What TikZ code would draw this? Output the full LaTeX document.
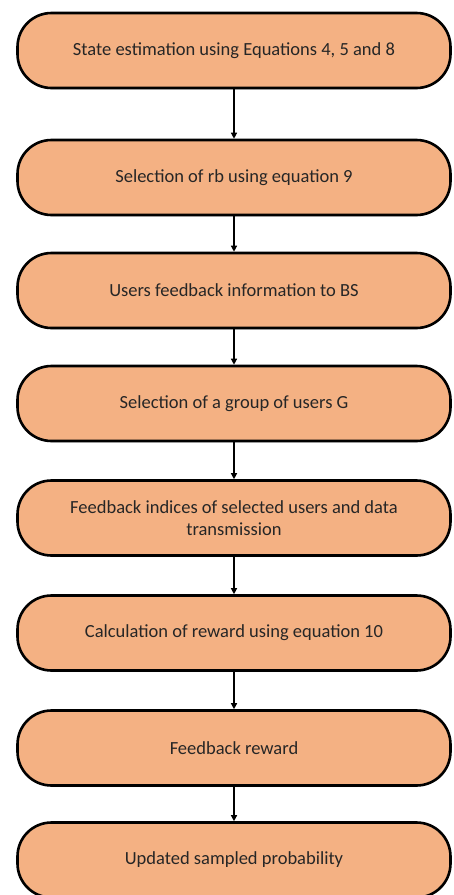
\documentclass[tikz,border=0pt]{standalone}
\usepackage{fontspec}
\setmainfont{Carlito}
\usetikzlibrary{arrows.meta,shadows}
\definecolor{boxfill}{HTML}{F4B183}
\definecolor{txt}{HTML}{262626}
\tikzset{
  flowbox/.style={draw=black, line width=2.6pt, fill=boxfill, rounded corners=34pt,
    minimum width=433pt, minimum height=75pt, inner sep=0pt, align=center,
    text=txt, font=\fontsize{18.5}{22}\selectfont,
    drop shadow={opacity=0.18, shadow xshift=0pt, shadow yshift=-1.5pt}},
  flowarrow/.style={line width=1.3pt, -{Triangle[length=6pt,width=6pt]}}
}
\begin{document}
\begin{tikzpicture}[x=1pt,y=-1pt]
\useasboundingbox (0,0) rectangle (453,895);
\node[flowbox] (b1) at (234,50.5) {State estimation using Equations 4, 5 and 8};
\node[flowbox] (b2) at (234,177.5) {Selection of rb using equation 9};
\node[flowbox] (b3) at (234,290.5) {Users feedback information to BS};
\node[flowbox] (b4) at (234,403.5) {Selection of a group of users G};
\node[flowbox] (b5) at (234,518) {Feedback indices of selected users and data\\transmission};
\node[flowbox] (b6) at (234,633) {Calculation of reward using equation 10};
\node[flowbox] (b7) at (234,748) {Feedback reward};
\node[flowbox] (b8) at (234,860) {Updated sampled probability};
\foreach \a/\b in {b1/b2,b2/b3,b3/b4,b4/b5,b5/b6,b6/b7,b7/b8}
  \draw[flowarrow] (\a.south) -- (\b.north);
\end{tikzpicture}
\end{document}
